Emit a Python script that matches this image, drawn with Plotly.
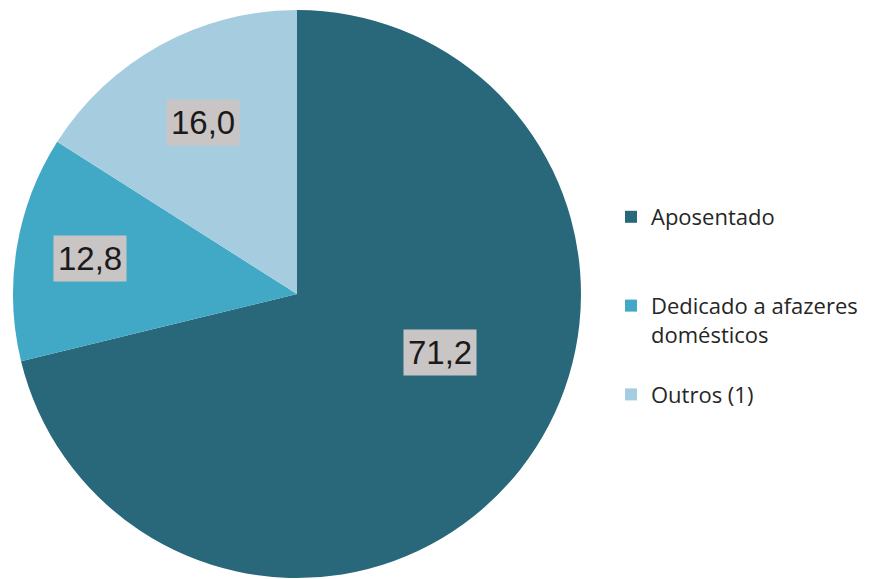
import math
import plotly.graph_objects as go

labels = ["Aposentado", "Dedicado a afazeres<br>domésticos", "Outros (1)"]
values = [71.2, 12.8, 16.0]
value_text = ["71,2", "12,8", "16,0"]
colors = ["#28687A", "#41A8C5", "#A5CDDF"]

# legend spacing via trailing blank lines
legend_names = [
    "Aposentado<br> <br> ",
    "Dedicado a afazeres<br>domésticos<br> ",
    "Outros (1)",
]

W, H = 869, 579
OFF = 8  # page body margin


def fx(px):
    return (px - OFF) / W


def fy(py):
    return 1 - (py - OFF) / H


dom_x = [fx(12), fx(582)]
dom_y = [fy(578), fy(10)]

fig = go.Figure(go.Pie(
    labels=legend_names,
    values=values,
    sort=False,
    direction="clockwise",
    rotation=0,
    marker=dict(colors=colors, line=dict(width=0)),
    textinfo="none",
    hoverinfo="label+value",
    domain=dict(x=dom_x, y=dom_y),
))

# label boxes placed from slice mid-angles
cx_px = (12 + 582) / 2
cy_px = (10 + 578) / 2
R = 284
label_r = [0.546, 0.74, 0.69]
label_shift = [-15.8, 0.5, 0]
total = sum(values)
start = 0.0
for v, t, rf, sh in zip(values, value_text, label_r, label_shift):
    mid = (start + v / 2) / total * 360 + sh
    start += v
    th = math.radians(mid)
    px = cx_px + rf * R * math.sin(th)
    py = cy_px - rf * R * math.cos(th)
    fig.add_annotation(
        x=fx(px), y=fy(py), xref="paper", yref="paper",
        xanchor="center", yanchor="middle",
        text=t, showarrow=False,
        font=dict(family="Liberation Sans, Arial", size=33, color="#1a1a1a"),
        bgcolor="#C9C5C5", borderpad=4,
    )

fig.update_layout(
    width=W, height=H,
    margin=dict(l=0, r=0, t=0, b=0),
    paper_bgcolor="white",
    showlegend=True,
    legend=dict(
        x=fx(611), xanchor="left",
        y=fy(196), yanchor="top",
        valign="top",
        font=dict(family="Open Sans", size=22, color="#262626"),
        bgcolor="rgba(0,0,0,0)",
    ),
)

fig.write_html("out.html")
